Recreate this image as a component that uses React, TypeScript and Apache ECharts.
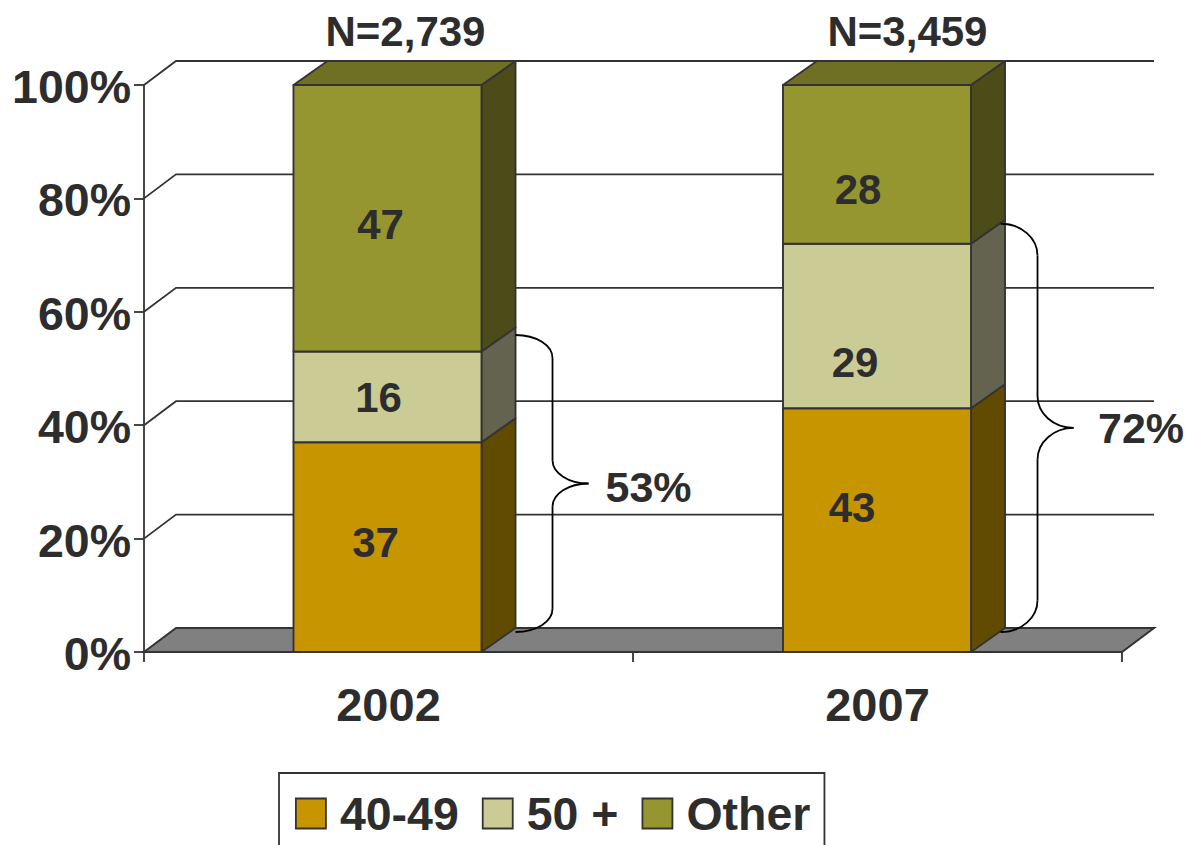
import React, { useEffect, useRef } from "react";
import * as echarts from "echarts";

const categories = ["2002", "2007"];
const tickValues = [0, 20, 40, 60, 80, 100];
const age4049 = [37, 43];
const age50plus = [16, 29];
const other = [47, 28];
const sampleSizes = ["N=2,739", "N=3,459"];
const braceTotals = [53, 72];

const FONT = "'Liberation Sans', Arial, sans-serif";
const INK = "#2d2d2d";
const EDGE = "#333333";
const BAR_DX = 34;
const BAR_DY = -24;
const WALL_DX = 32;
const labelShift = [
  [[-12, -5], [-9, 1], [-7, 6]],
  [[-25, -23], [-22, 37], [-19, 25]],
];
const braceInset = [7.5, 4];
const braceSpine = [71, 67];
const braceTextShift = [61, 68.5];

const segment = (seriesIndex: number, front: string, side: string, top?: string) =>
  (params: any, api: any) => {
    const cat = api.value(0);
    const base = api.value(1);
    const end = api.value(2);
    const bandW = api.size([1, 0])[0];
    const w = bandW * 0.3845;
    const cx = api.coord([cat, 0])[0] - (cat === 0 ? 1 : 0.5);
    const y0 = api.coord([cat, base])[1];
    const y1 = api.coord([cat, end])[1];
    const xL = cx - w / 2;
    const xR = cx + w / 2;
    const stroke = { stroke: EDGE, lineWidth: 1.9, lineJoin: "round" };
    const shift = labelShift[cat][seriesIndex];
    const children: any[] = [
      {
        type: "polygon",
        shape: { points: [[xR, y0], [xR + BAR_DX, y0 + BAR_DY], [xR + BAR_DX, y1 + BAR_DY], [xR, y1]] },
        style: { fill: side, ...stroke },
      },
      { type: "rect", shape: { x: xL, y: y1, width: w, height: y0 - y1 }, style: { fill: front, ...stroke } },
    ];
    if (top) {
      children.push({
        type: "polygon",
        shape: { points: [[xL, y1], [xL + BAR_DX, y1 + BAR_DY], [xR + BAR_DX, y1 + BAR_DY], [xR, y1]] },
        style: { fill: top, ...stroke },
      });
    }
    children.push({
      type: "text",
      style: {
        text: String(end - base),
        x: cx + shift[0],
        y: (y0 + y1) / 2 + shift[1],
        align: "center",
        verticalAlign: "middle",
        font: `bold 42px ${FONT}`,
        fill: INK,
      },
    });
    return { type: "group", children };
  };

const renderWall = (params: any, api: any) => {
  const v = api.value(0);
  const cs = params.coordSys;
  const y = api.coord([0, v])[1];
  const xL = cs.x;
  const xR = cs.x + cs.width;
  const line = { stroke: EDGE, lineWidth: 1.8, fill: "none" };
  if (v === 0) {
    return {
      type: "polygon",
      shape: { points: [[xL, y], [xL + WALL_DX, y + BAR_DY], [xR + WALL_DX, y + BAR_DY], [xR, y]] },
      style: { fill: "#808080", stroke: EDGE, lineWidth: 2 },
    };
  }
  return {
    type: "polyline",
    shape: { points: [[xL, y], [xL + WALL_DX, y + BAR_DY], [xR + WALL_DX, y + BAR_DY]] },
    style: line,
  };
};

const renderBrace = (params: any, api: any) => {
  const i = api.value(0);
  const total = api.value(1);
  const w = api.size([1, 0])[0] * 0.3845;
  const barRight = api.coord([i, 0])[0] - 1 + w / 2;
  const sx = barRight + braceSpine[i];
  const top = api.coord([i, total])[1] + BAR_DY + braceInset[i];
  const bottom = api.coord([i, 0])[1] - 20;
  const mid = (top + bottom) / 2;
  const h = (bottom - top) * 0.078;
  const r = 37;
  const s = { stroke: "#000000", lineWidth: 1.8, fill: "none" };
  const curve = (x1: number, y1: number, cx1: number, cy1: number, cx2: number, cy2: number, x2: number, y2: number) => ({
    type: "bezierCurve",
    shape: { x1, y1, cpx1: cx1, cpy1: cy1, cpx2: cx2, cpy2: cy2, x2, y2 },
    style: s,
  });
  return {
    type: "group",
    children: [
      curve(sx - r, top, sx - 16, top, sx, top + h * 0.45, sx, top + h),
      { type: "line", shape: { x1: sx, y1: top + h, x2: sx, y2: mid - h }, style: s },
      curve(sx, mid - h, sx, mid - h * 0.45, sx + 16, mid, sx + r - 1, mid),
      curve(sx + r - 1, mid, sx + 16, mid, sx, mid + h * 0.45, sx, mid + h),
      { type: "line", shape: { x1: sx, y1: mid + h, x2: sx, y2: bottom - h }, style: s },
      curve(sx, bottom - h, sx, bottom - h * 0.45, sx - 16, bottom, sx - r, bottom),
      {
        type: "text",
        style: {
          text: `${total}%`,
          x: sx + braceTextShift[i] + 35,
          y: mid + (i === 0 ? 4 : 0),
          align: "center",
          verticalAlign: "middle",
          font: `bold 43px ${FONT}`,
          fill: INK,
        },
      },
    ],
  };
};

const renderSample = (params: any, api: any) => {
  const i = api.value(0);
  const p = api.coord([i, 100]);
  return {
    type: "text",
    style: {
      text: sampleSizes[i],
      x: p[0] + (i === 0 ? 17 : 30),
      y: p[1] - 54,
      align: "center",
      verticalAlign: "middle",
      font: `bold 42px ${FONT}`,
      fill: INK,
    },
  };
};

const rows = (base: number[], vals: number[]) => vals.map((v, i) => [i, base[i], base[i] + v]);
const zero = categories.map(() => 0);
const base2 = age4049;
const base3 = age4049.map((v, i) => v + age50plus[i]);

export default function App() {
  const ref = useRef<HTMLDivElement>(null);
  useEffect(() => {
    if (!ref.current) return;
    const chart = echarts.init(ref.current, undefined, { renderer: "svg" });
    const axisText = { fontFamily: FONT, fontWeight: "bold" as const, color: INK };
    const line = { lineStyle: { color: EDGE, width: 1.8 } };
    const legendStyle = (c: string) => ({ color: c, borderColor: EDGE, borderWidth: 1.8 });
    chart.setOption({
      animation: false,
      backgroundColor: "#ffffff",
      grid: { left: 144, top: 85, width: 978, height: 567, containLabel: false },
      legend: {
        left: 279,
        top: 773,
        orient: "horizontal",
        padding: [17, 14, 40, 16],
        itemWidth: 30,
        itemHeight: 30,
        itemGap: 23,
        borderColor: EDGE,
        borderWidth: 1.8,
        selectedMode: false,
        textStyle: { ...axisText, fontSize: 46.5, lineHeight: 30, padding: [0, 0, 0, 9] },
        data: [
          { name: "40-49", icon: "rect", itemStyle: legendStyle("#C79500") },
          { name: "50 +", icon: "rect", itemStyle: legendStyle("#CBCB96") },
          { name: "Other", icon: "rect", itemStyle: legendStyle("#969631") },
        ],
      },
      xAxis: {
        type: "category",
        data: categories,
        boundaryGap: true,
        axisLine: { show: true, ...line },
        axisTick: { show: true, length: 10, alignWithLabel: false, ...line },
        axisLabel: { ...axisText, fontSize: 47, margin: 29, lineHeight: 46, interval: 0 },
      },
      yAxis: {
        type: "value",
        min: 0,
        max: 100,
        interval: 20,
        axisLine: { show: true, ...line },
        axisTick: { show: true, length: 10, ...line },
        splitLine: { show: false },
        axisLabel: {
          ...axisText,
          margin: 13,
          formatter: "{v|{value}%}",
          rich: { v: { ...axisText, fontSize: 46.5, lineHeight: 50, padding: [4, 0, 0, 0] } },
        },
      },
      series: [
        {
          type: "custom",
          name: "wall",
          z: 1,
          clip: false,
          coordinateSystem: "cartesian2d",
          renderItem: renderWall,
          encode: { y: 0 },
          data: tickValues.map((v) => [v]),
        },
        {
          type: "custom",
          name: "40-49",
          z: 2,
          clip: false,
          renderItem: segment(0, "#C79500", "#614B00"),
          encode: { x: 0, y: [1, 2] },
          itemStyle: { color: "#C79500" },
          data: rows(zero, age4049),
        },
        {
          type: "custom",
          name: "50 +",
          z: 2,
          clip: false,
          renderItem: segment(1, "#CBCB96", "#636350"),
          encode: { x: 0, y: [1, 2] },
          itemStyle: { color: "#CBCB96" },
          data: rows(base2, age50plus),
        },
        {
          type: "custom",
          name: "Other",
          z: 2,
          clip: false,
          renderItem: segment(2, "#969631", "#4C4C18", "#707025"),
          encode: { x: 0, y: [1, 2] },
          itemStyle: { color: "#969631" },
          data: rows(base3, other),
        },
        {
          type: "custom",
          name: "braces",
          z: 3,
          clip: false,
          renderItem: renderBrace,
          encode: { x: 0, y: 1 },
          data: braceTotals.map((t, i) => [i, t]),
        },
        {
          type: "custom",
          name: "samples",
          z: 3,
          clip: false,
          renderItem: renderSample,
          encode: { x: 0 },
          data: sampleSizes.map((_, i) => [i]),
        },
      ],
    });
    return () => chart.dispose();
  }, []);
  return <div ref={ref} style={{ position: "fixed", left: 0, top: 0, width: 1186, height: 845 }} />;
}
